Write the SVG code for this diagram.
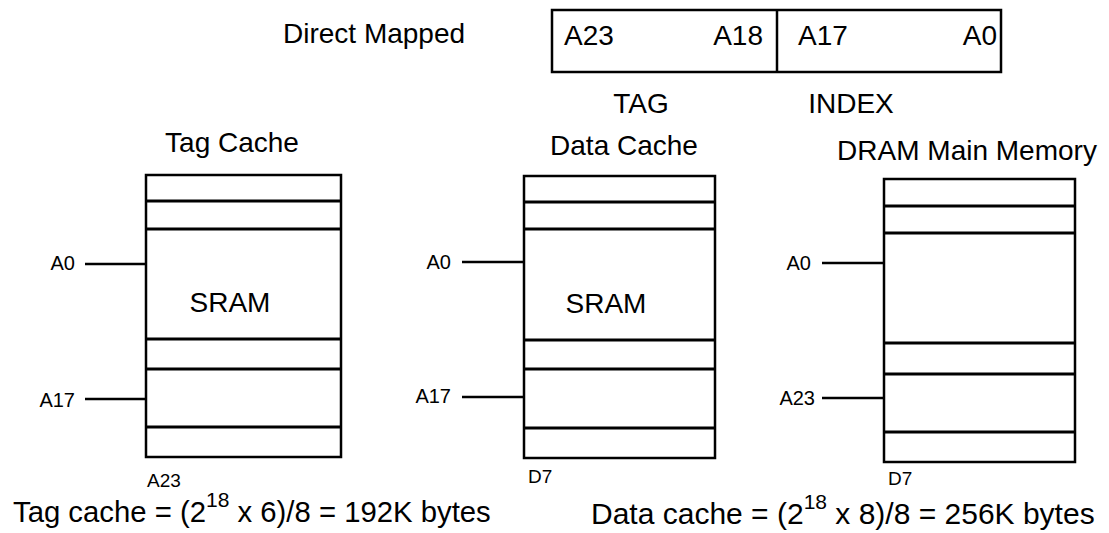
<svg xmlns="http://www.w3.org/2000/svg" width="1109" height="533" viewBox="0 0 1109 533">
<style>
text{font-family:"Liberation Sans",Arial,sans-serif;fill:#000}
.big{font-size:28px}
.fx{font-size:30px}
.sup{font-size:21px}
.lbl{font-size:20px}
.sm{font-size:19px}
.box{fill:#fff;stroke:#000;stroke-width:2.5}
.row{stroke:#000;stroke-width:3}
.wire{stroke:#000;stroke-width:2.5}
</style>
<rect width="1109" height="533" fill="#fff"/>
<g id="address-format">
<text class="big" x="283" y="43">Direct Mapped</text>
<rect class="box" x="552" y="10" width="449" height="62"/>
<line class="wire" x1="777" y1="10" x2="777" y2="72"/>
<text class="big" x="564" y="45">A23</text>
<text class="big" x="763" y="45" text-anchor="end">A18</text>
<text class="big" x="798" y="45">A17</text>
<text class="big" x="997" y="45" text-anchor="end">A0</text>
<text class="big" x="641" y="113" text-anchor="middle">TAG</text>
<text class="big" x="851" y="113" text-anchor="middle">INDEX</text>
</g>
<g id="tag-cache">
<text class="big" x="232" y="152" text-anchor="middle">Tag Cache</text>
<rect class="box" x="146" y="175" width="195" height="282"/>
<line class="row" x1="146" y1="201" x2="341" y2="201"/>
<line class="row" x1="146" y1="229" x2="341" y2="229"/>
<line class="row" x1="146" y1="339" x2="341" y2="339"/>
<line class="row" x1="146" y1="369" x2="341" y2="369"/>
<line class="row" x1="146" y1="427" x2="341" y2="427"/>
<text class="big" x="230" y="312" text-anchor="middle">SRAM</text>
<text class="lbl" x="75" y="270" text-anchor="end">A0</text>
<text class="lbl" x="75" y="407" text-anchor="end">A17</text>
<text class="sm" x="147" y="487">A23</text>
</g>
<g id="data-cache">
<text class="big" x="624" y="155" text-anchor="middle">Data Cache</text>
<rect class="box" x="524" y="176" width="191" height="282"/>
<line class="row" x1="524" y1="202" x2="715" y2="202"/>
<line class="row" x1="524" y1="229" x2="715" y2="229"/>
<line class="row" x1="524" y1="340" x2="715" y2="340"/>
<line class="row" x1="524" y1="369" x2="715" y2="369"/>
<line class="row" x1="524" y1="428" x2="715" y2="428"/>
<text class="big" x="606" y="313" text-anchor="middle">SRAM</text>
<text class="lbl" x="451" y="269" text-anchor="end">A0</text>
<text class="lbl" x="451" y="403" text-anchor="end">A17</text>
<text class="sm" x="528" y="483">D7</text>
</g>
<g id="dram-main-memory">
<text class="big" x="967" y="160" text-anchor="middle">DRAM Main Memory</text>
<rect class="box" x="884" y="179" width="191" height="283"/>
<line class="row" x1="884" y1="206" x2="1075" y2="206"/>
<line class="row" x1="884" y1="233" x2="1075" y2="233"/>
<line class="row" x1="884" y1="343" x2="1075" y2="343"/>
<line class="row" x1="884" y1="374" x2="1075" y2="374"/>
<line class="row" x1="884" y1="432" x2="1075" y2="432"/>
<text class="lbl" x="811" y="270" text-anchor="end">A0</text>
<text class="lbl" x="815" y="405" text-anchor="end">A23</text>
<text class="sm" x="888" y="485">D7</text>
</g>
<g id="connectors">
<line class="wire" x1="85" y1="264" x2="146" y2="264" stroke-width="3"/>
<line class="wire" x1="85" y1="399" x2="146" y2="399"/>
<line class="wire" x1="462" y1="262" x2="524" y2="262"/>
<line class="wire" x1="462" y1="397" x2="524" y2="397"/>
<line class="wire" x1="822" y1="263" x2="884" y2="263"/>
<line class="wire" x1="822" y1="398" x2="884" y2="398"/>
</g>
<g id="formulas">
<text class="fx" x="13" y="522" style="font-size:29.3px">Tag cache = (2<tspan class="sup" dy="-15">18</tspan><tspan dy="15"> x 6)/8 = 192K bytes</tspan></text>
<text class="fx" x="591" y="524">Data cache = (2<tspan class="sup" dy="-15">18</tspan><tspan dy="15"> x 8)/8 = 256K bytes</tspan></text>
</g>
</svg>
